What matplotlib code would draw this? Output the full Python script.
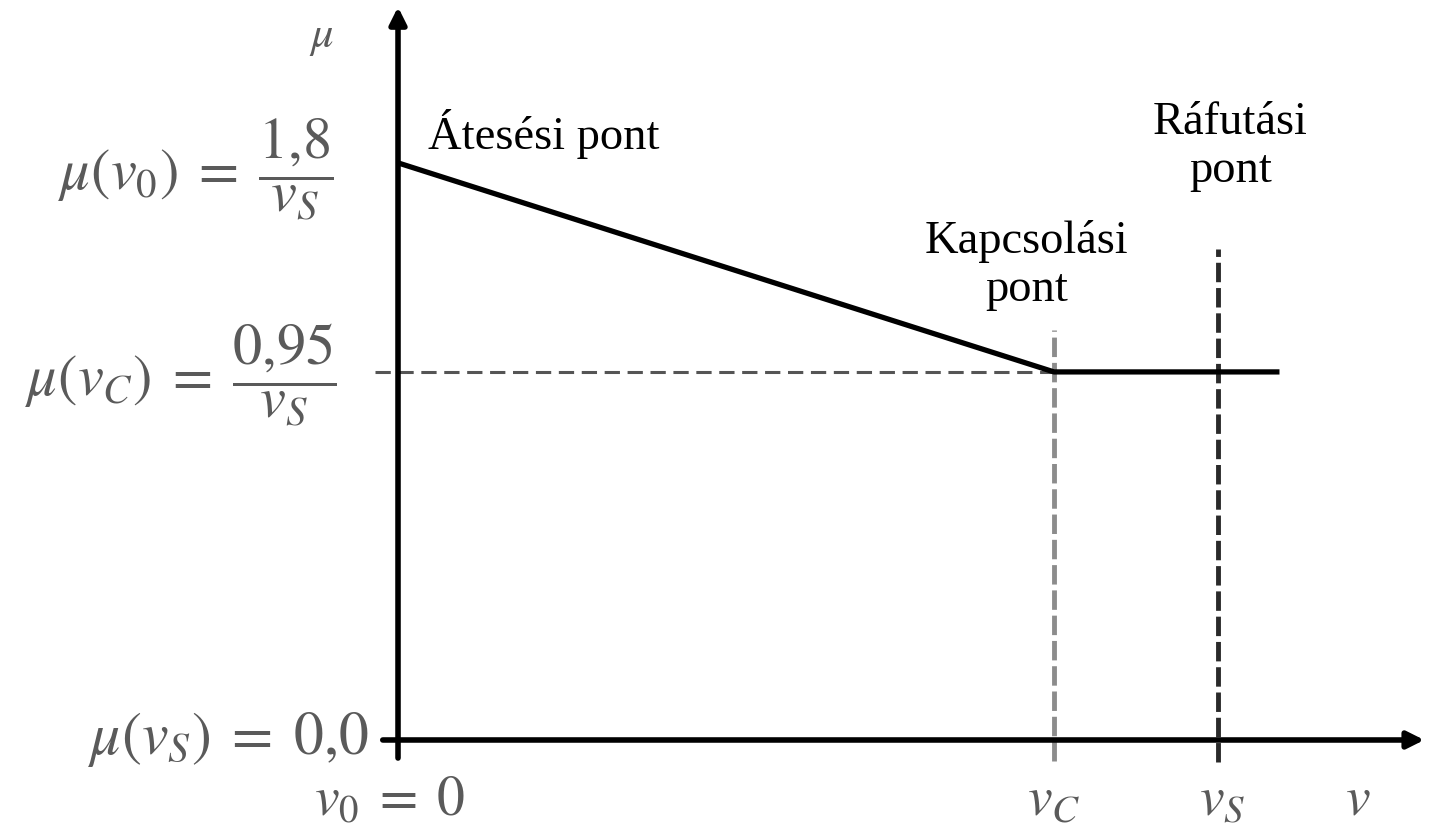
import matplotlib
matplotlib.use('Agg')
import matplotlib.pyplot as plt

plt.rcParams['mathtext.fontset'] = 'stix'
plt.rcParams['font.family'] = ['Liberation Serif', 'DejaVu Serif']

# values (units: v_S = 1, mu drawn on its own scale)
v_line = [0.0, 0.80, 1.075]
mu_line = [1.80, 1.148, 1.148]
v_c = 0.80
v_s = 1.0
mu_c = 1.148
v_tick_labels = [r'$v_0\;=\;0$', r'$v_C$', r'$v_S$']
mu_tick_labels = [r'$\mu(v_0)\;=\;\dfrac{1{,}8}{v_S}$',
                  r'$\mu(v_C)\;=\;\dfrac{0{,}95}{v_S}$',
                  r'$\mu(v_S)\;=\;0{,}0$']

fig = plt.figure(figsize=(14.47, 8.38), dpi=100)
ax = fig.add_axes([0, 0, 1, 1])
ax.set_xlim(-0.4854, 1.2793)
ax.set_ylim(-0.3057, 2.308)
ax.axis('off')

grey = '#5a5a5a'
msize = 40

# axes with arrows
ax.annotate('', xy=(1.255, 0), xytext=(-0.022, 0),
            arrowprops=dict(arrowstyle='-|>', lw=4, color='black', mutation_scale=25))
ax.annotate('', xy=(0, 2.295), xytext=(0, -0.065),
            arrowprops=dict(arrowstyle='-|>', lw=4, color='black', mutation_scale=25))

# guide lines
ax.plot([-0.028, v_c], [mu_c, mu_c], ls=(0, (5, 2.5)), lw=2.2, color='#555555')
ax.plot([v_c, v_c], [-0.065, 1.28], ls=(0, (4, 1.2)), lw=3.5, color='#8c8c8c')
ax.plot([v_s, v_s], [-0.068, 1.53], ls=(0, (4, 1.2)), lw=3.5, color='#2a2a2a')

# characteristic
ax.plot(v_line, mu_line, color='black', lw=3.8, solid_capstyle='butt')

# annotations
ax.text(0.037, 1.89, 'Átesési pont', fontsize=33.5, ha='left', va='center')
ax.text(0.767, 1.48, 'Kapcsolási\npont', fontsize=33.5, ha='center', va='center',
        linespacing=1.15)
ax.text(1.015, 1.85, 'Ráfutási\npont', fontsize=33.5, ha='center', va='center',
        linespacing=1.15)

# axis names
ax.text(-0.093, 2.19, r'$\mu$', fontsize=32, color=grey, ha='center', va='center')
ax.text(1.17, -0.19, r'$v$', fontsize=msize, color=grey, ha='center', va='center')

# x tick labels
ax.text(-0.01, -0.19, v_tick_labels[0], fontsize=msize, color=grey, ha='center', va='center')
ax.text(v_c, -0.19, v_tick_labels[1], fontsize=msize, color=grey, ha='center', va='center')
ax.text(v_s + 0.005, -0.19, v_tick_labels[2], fontsize=msize, color=grey, ha='center', va='center')

# y tick labels
ax.text(-0.078, 1.78, mu_tick_labels[0], fontsize=42, color=grey, ha='right', va='center')
ax.text(-0.075, mu_c - 0.01, mu_tick_labels[1], fontsize=42, color=grey, ha='right', va='center')
ax.text(-0.036, 0.0, mu_tick_labels[2], fontsize=43, color=grey, ha='right', va='center')

fig.savefig('out.png', dpi=100)
